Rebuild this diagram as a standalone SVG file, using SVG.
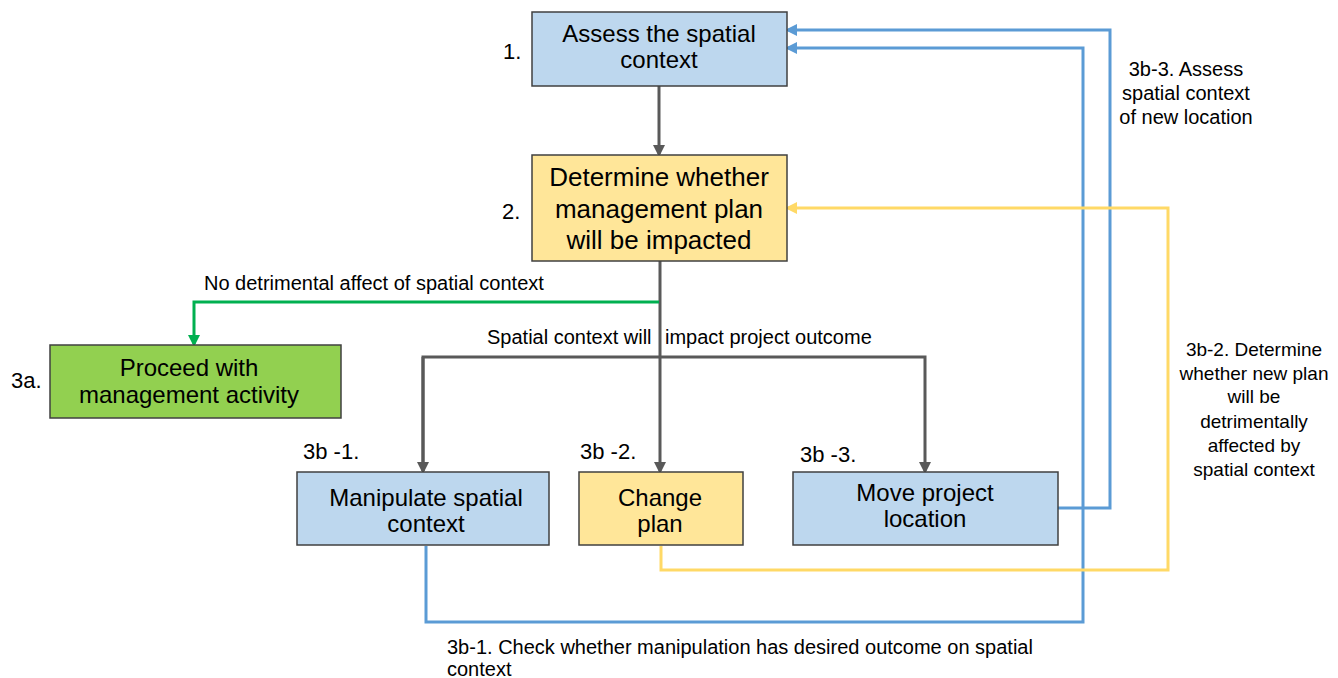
<svg xmlns="http://www.w3.org/2000/svg" width="1338" height="678" viewBox="0 0 1338 678">
<defs>
<style>
text{font-family:"Liberation Sans",Arial,sans-serif;fill:#000}
.box{stroke:#404040;stroke-width:1.5}
.blue{fill:#BDD7EE}.yel{fill:#FFE699}.grn{fill:#92D050}
.t24{font-size:24px;text-anchor:middle}
.t26{font-size:26px;text-anchor:middle}
.num{font-size:22px}
.lbl{font-size:20px}
.lblc{font-size:19px;text-anchor:middle}
.lblc2{font-size:20px;text-anchor:middle}
.c{fill:none;stroke-width:3}
.cg{stroke:#595959}.cb{stroke:#5B9BD5}.cy{stroke:#FFD966}.cgr{stroke:#00B050}
</style>
<marker id="ag" markerWidth="4" markerHeight="4" refX="3" refY="2" orient="auto" markerUnits="strokeWidth"><path d="M0,0 L4,2 L0,4 Z" fill="#595959"/></marker>
<marker id="ab" markerWidth="4" markerHeight="4" refX="3" refY="2" orient="auto" markerUnits="strokeWidth"><path d="M0,0 L4,2 L0,4 Z" fill="#5B9BD5"/></marker>
<marker id="ay" markerWidth="4" markerHeight="4" refX="3" refY="2" orient="auto" markerUnits="strokeWidth"><path d="M0,0 L4,2 L0,4 Z" fill="#FFD966"/></marker>
<marker id="agr" markerWidth="4" markerHeight="4" refX="3" refY="2" orient="auto" markerUnits="strokeWidth"><path d="M0,0 L4,2 L0,4 Z" fill="#00B050"/></marker>
</defs>
<rect width="1338" height="678" fill="#fff"/>
<g id="connectors">
<path class="c cg" d="M659,86 V154" marker-end="url(#ag)"/>
<path class="c cg" d="M660,261 V471" marker-end="url(#ag)"/>
<path class="c cgr" d="M659,302 H194 V344" marker-end="url(#agr)"/>
<path class="c cg" d="M423,471 V357 H925 V471" marker-end="url(#ag)"/>
<path class="c cg" d="M423,357 V471" marker-end="url(#ag)"/>
<path class="c cb" d="M1058,508 H1110 V30 H788" marker-end="url(#ab)"/>
<path class="c cb" d="M426,546 V622 H1083 V48 H788" marker-end="url(#ab)"/>
<path class="c cy" d="M661,546 V570 H1168 V208 H788" marker-end="url(#ay)"/>
<text class="lbl" x="204" y="290">No detrimental affect of spatial context</text>
<text class="lbl" y="344"><tspan x="487">Spatial context will</tspan><tspan x="665">impact project outcome</tspan></text>
<text class="lblc2" x="1186" y="76">3b-3. Assess</text>
<text class="lblc2" x="1186" y="100">spatial context</text>
<text class="lblc2" x="1186" y="124">of new location</text>
<text class="lblc" x="1254" y="356">3b-2. Determine</text>
<text class="lblc" x="1254" y="380">whether new plan</text>
<text class="lblc" x="1254" y="403">will be</text>
<text class="lblc" x="1254" y="428">detrimentally</text>
<text class="lblc" x="1254" y="452">affected by</text>
<text class="lblc" x="1254" y="476">spatial context</text>
<text class="lbl" x="447" y="654">3b-1. Check whether manipulation has desired outcome on spatial</text>
<text class="lbl" x="447" y="676">context</text>
</g>
<g id="n1">
<rect class="box blue" x="532" y="12" width="255" height="74"/>
<text class="t24" x="659" y="42">Assess the spatial</text>
<text class="t24" x="659" y="68">context</text>
<text class="num" x="503" y="59">1.</text>
</g>
<g id="n2">
<rect class="box yel" x="532" y="155" width="255" height="106"/>
<text class="t26" x="659" y="186">Determine whether</text>
<text class="t26" x="659" y="218">management plan</text>
<text class="t26" x="659" y="249">will be impacted</text>
<text class="num" x="502" y="219">2.</text>
</g>
<g id="n3a">
<rect class="box grn" x="50" y="345" width="291" height="73"/>
<text class="t24" x="189" y="376">Proceed with</text>
<text class="t24" x="189" y="403">management activity</text>
<text class="num" x="11" y="388">3a.</text>
</g>
<g id="n3b1">
<rect class="box blue" x="297" y="472" width="252" height="73"/>
<text class="t24" x="426" y="506">Manipulate spatial</text>
<text class="t24" x="426" y="532">context</text>
<text class="num" x="303" y="459">3b -1.</text>
</g>
<g id="n3b2">
<rect class="box yel" x="579" y="472" width="164" height="73"/>
<text class="t24" x="660" y="506">Change</text>
<text class="t24" x="660" y="532">plan</text>
<text class="num" x="580" y="459">3b -2.</text>
</g>
<g id="n3b3">
<rect class="box blue" x="793" y="472" width="265" height="73"/>
<text class="t24" x="925" y="501">Move project</text>
<text class="t24" x="925" y="527">location</text>
<text class="num" x="800" y="462">3b -3.</text>
</g>
</svg>
